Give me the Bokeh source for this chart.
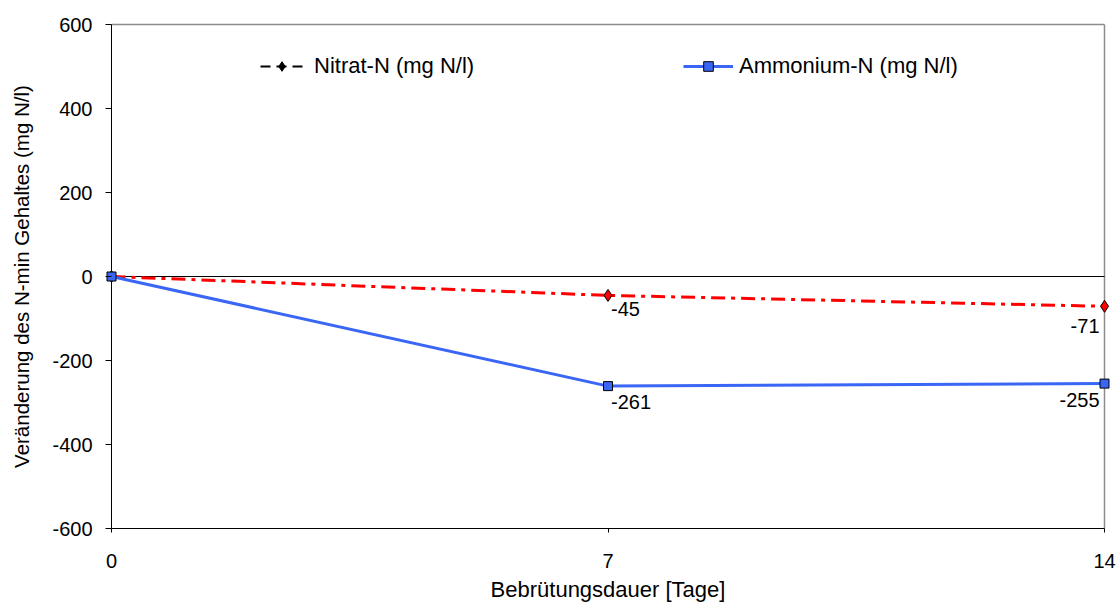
from bokeh.plotting import figure
from bokeh.models import (ColumnDataSource, Legend, LegendItem, Title,
                          FixedTicker, Range1d)
from bokeh.core.properties import value
from bokeh.embed import file_html
from bokeh.resources import INLINE

# Change of mineral nitrogen content over incubation time
tage = [0, 7, 14]
nitrat = [0, -45, -71]
ammonium = [0, -261, -255]
x_ticks = [0, 7, 14]
y_ticks = [-600, -400, -200, 0, 200, 400, 600]

FONT = "Liberation Sans"
RED = "#FF0000"
BLUE = "#3A66F5"
GREY = "#8C8C8C"

# plot area geometry (pixels); the frame is padded a little so that
# the end markers are not cut off at the data limits
W, H = 1120, 609
LEFT, RIGHT, TOP, BOTTOM = 111, 1104, 24, 528
PADX, PADY = 6, 3
xmin, xmax = x_ticks[0], x_ticks[-1]
ymin, ymax = y_ticks[0], y_ticks[-1]
ux = (xmax - xmin) / (RIGHT - LEFT)
uy = (ymax - ymin) / (BOTTOM - TOP)

p = figure(width=W, height=H, output_backend="svg", toolbar_location=None,
           x_range=Range1d(xmin - PADX * ux, xmax + PADX * ux),
           y_range=Range1d(ymin - PADY * uy, ymax + PADY * uy),
           min_border_left=LEFT - PADX, min_border_right=W - RIGHT - PADX,
           min_border_top=TOP - PADY, min_border_bottom=H - BOTTOM - PADY)
p.background_fill_color = "white"
p.border_fill_color = "white"
p.outline_line_color = None
p.xgrid.visible = False
p.ygrid.visible = False

for ax in (p.xaxis[0], p.yaxis[0]):
    ax.axis_line_color = None
    ax.major_tick_line_color = "black"
    ax.minor_tick_line_color = None
    ax.major_label_text_font = FONT
    ax.major_label_text_font_size = "20px"
    ax.major_label_text_color = "black"
    ax.axis_label_text_font = FONT
    ax.axis_label_text_font_style = "normal"
    ax.axis_label_text_color = "black"

p.xaxis.ticker = FixedTicker(ticks=x_ticks)
p.yaxis.ticker = FixedTicker(ticks=y_ticks)
# plain hyphen-minus in tick labels
p.yaxis.major_label_overrides = {v: str(v) for v in y_ticks}
p.xaxis.major_label_overrides = {v: str(v) for v in x_ticks}
# tick marks start at the data limits inside the padded frame
p.yaxis.major_tick_in = PADX
p.yaxis.major_tick_out = 0
p.xaxis.major_tick_in = PADY
p.xaxis.major_tick_out = 1
p.xaxis.major_label_standoff = 21
p.yaxis.major_label_standoff = 13
p.yaxis.axis_label = "Veränderung des N-min Gehaltes (mg N/l)"
p.yaxis.axis_label_text_font_size = "20.5px"
p.yaxis.axis_label_standoff = 16

# x axis title, centred under the axis
p.add_layout(Title(text="Bebrütungsdauer [Tage]", align="center", standoff=8,
                   text_font=FONT, text_font_size="22px",
                   text_font_style="normal", text_color="black"), "below")

# plot area border: grey top/right, black axis lines left/bottom
p.segment(x0=[xmin, xmax], y0=[ymax, ymin], x1=[xmax, xmax], y1=[ymax, ymax],
          line_color=GREY, line_width=1.5)
p.segment(x0=[xmin, xmin], y0=[ymin, ymin], x1=[xmax, xmin], y1=[ymin, ymax],
          line_color="black", line_width=1)

# zero reference line
p.segment(x0=[xmin], y0=[0], x1=[xmax], y1=[0], line_color="black", line_width=1)

src = ColumnDataSource(dict(tage=tage, nitrat=nitrat, ammonium=ammonium))

# series
p.line("tage", "nitrat", source=src, line_color=RED, line_width=3,
       line_dash="14 6 4 6")
p.scatter("tage", "nitrat", source=src, marker="diamond", size=12,
          fill_color=RED, line_color="black", line_width=1)
p.line("tage", "ammonium", source=src, line_color=BLUE, line_width=3)
p.scatter("tage", "ammonium", source=src, marker="square", size=9,
          fill_color=BLUE, line_color="black", line_width=1)

# value labels at day 7 (right of the point) and day 14 (left of the point)
lbl = ColumnDataSource(dict(
    x=[tage[1], tage[1], tage[2], tage[2]],
    y=[nitrat[1], ammonium[1], nitrat[2], ammonium[2]],
    t=[str(nitrat[1]), str(ammonium[1]), str(nitrat[2]), str(ammonium[2])],
    align=["left", "left", "right", "right"],
    dx=[3, 3, -5, -5],
    dy=[7, 9, 13, 9],
))
p.text(x="x", y="y", text="t", source=lbl, text_align="align",
       text_baseline="top", x_offset="dx", y_offset="dy",
       text_font=value(FONT), text_font_size="20px", text_color="black")

# legend entries (drawn in their own style, no visible data)
nan = float("nan")
blank = ColumnDataSource(dict(x=[nan], y=[nan]))
ln_n = p.line("x", "y", source=blank, line_color="black", line_width=2, line_dash="10 6")
mk_n = p.scatter("x", "y", source=blank, marker="diamond", size=11,
                 fill_color="black", line_color="black")
ln_a = p.line("x", "y", source=blank, line_color=BLUE, line_width=3)
mk_a = p.scatter("x", "y", source=blank, marker="square", size=9,
                 fill_color=BLUE, line_color="black")


def make_legend(label, renderers, x, gw, standoff):
    lg = Legend(items=[LegendItem(label=label, renderers=renderers)],
                location=(x, 452), orientation="horizontal",
                border_line_color=None, background_fill_alpha=0,
                padding=0, margin=0, spacing=0,
                glyph_width=gw, glyph_height=24, label_height=24,
                label_standoff=standoff, label_text_font=FONT,
                label_text_font_size="22px", label_text_color="black")
    p.add_layout(lg)


make_legend("Nitrat-N (mg N/l)", [ln_n, mk_n], 260 - (LEFT - PADX), 43, 11)
make_legend("Ammonium-N (mg N/l)", [ln_a, mk_a], 683 - (LEFT - PADX), 50, 6)

open("out.html", "w").write(file_html(p, INLINE))
